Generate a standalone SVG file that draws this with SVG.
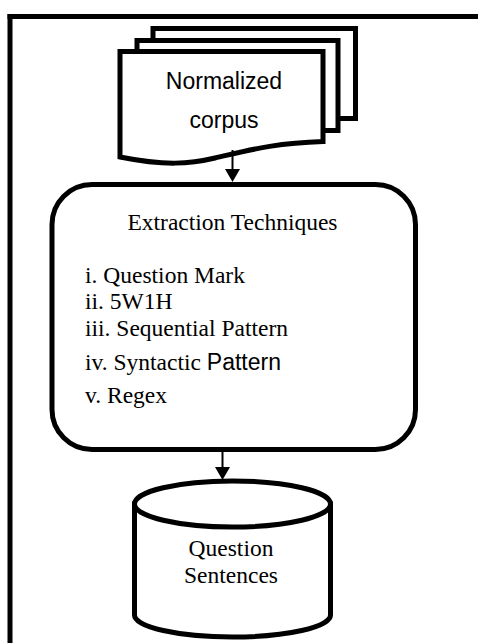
<svg xmlns="http://www.w3.org/2000/svg" width="478" height="643" viewBox="0 0 478 643">
<style>
.shape{fill:#fff;stroke:#000;stroke-width:5;stroke-linejoin:miter}
.frame{fill:none;stroke:#000;stroke-width:5}
.serif{font-family:"Liberation Serif","Times New Roman",serif;font-size:23.5px;fill:#000}
.sans{font-family:"Liberation Sans",Arial,sans-serif;font-size:23px;fill:#000}
.conn{stroke:#000;stroke-width:2;fill:none}
.head{fill:#000}
</style>
<g id="frame">
<line class="frame" x1="7.5" y1="16.5" x2="478" y2="16.5"/>
<line class="frame" x1="10" y1="14" x2="10" y2="643"/>
</g>
<g id="normalized-corpus">
<rect class="shape" x="153" y="28.5" width="202.5" height="90"/>
<rect class="shape" x="137" y="40.5" width="201" height="90"/>
<path class="shape" d="M120,51.5 L323,51.5 L323,141.5 C275,143 250,150 215,158 C190,164 165,166 120,157 Z"/>
<text class="sans" x="224" y="89" text-anchor="middle">Normalized</text>
<text class="sans" x="224" y="128" text-anchor="middle">corpus</text>
</g>
<g id="extraction-techniques">
<rect class="shape" x="52" y="184.5" width="363.5" height="265" rx="40" ry="40"/>
<text class="serif" x="232.5" y="230" text-anchor="middle">Extraction Techniques</text>
<text class="serif" x="85" y="283">i. Question Mark</text>
<text class="serif" x="85" y="309">ii. 5W1H</text>
<text class="serif" x="85" y="336">iii. Sequential Pattern</text>
<text class="serif" x="85" y="370">iv. Syntactic <tspan style="font-family:'Liberation Sans',Arial,sans-serif;font-size:23px">Pattern</tspan></text>
<text class="serif" x="85" y="403">v. Regex</text>
</g>
<g id="question-sentences">
<path class="shape" d="M134.5,504 L134.5,615 A98,22 0 0 0 330.5,615 L330.5,504 Z"/>
<ellipse class="shape" cx="232.5" cy="504" rx="98" ry="23"/>
<text class="serif" x="231" y="556" text-anchor="middle">Question</text>
<text class="serif" x="231" y="583" text-anchor="middle">Sentences</text>
</g>
<g id="connectors">
<line class="conn" x1="232.5" y1="150" x2="232.5" y2="170"/>
<polygon class="head" points="225,169 240,169 232.5,182"/>
<line class="conn" x1="222.5" y1="452" x2="222.5" y2="468"/>
<polygon class="head" points="215,467 230,467 222.5,480"/>
</g>
</svg>
